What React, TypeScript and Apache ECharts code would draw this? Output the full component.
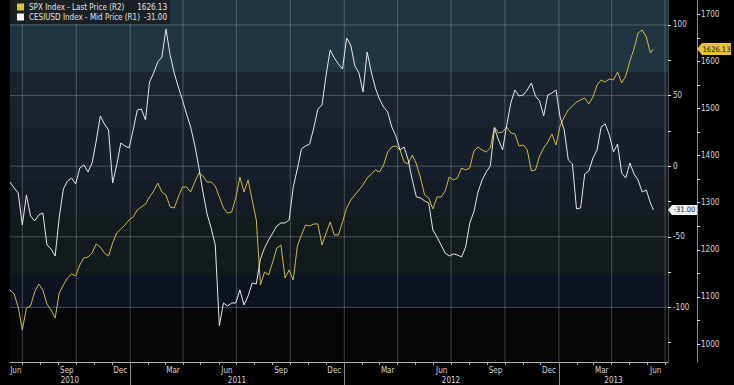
import React, { useEffect, useRef } from "react";
import * as echarts from "echarts";

// ---------- data ----------
const DAY = 86400000;
const startDate = Date.UTC(2010, 5, 10);
const lastDate = Date.UTC(2013, 5, 11);
// weekly sampling dates (x positions of the samples), last one = 2013-06-11
const sampleDates: number[] = [];
for (let i = 0; i < 157; i++) sampleDates.push(startDate + i * 7 * DAY);
sampleDates.push(lastDate);

const spxValues = [
  1114.6, 1106.2, 1078.6, 1029.7, 1076.4, 1080.7, 1110.4, 1127.4, 1114.6, 1084.9,
  1072.2, 1055.2, 1108.3, 1125.3, 1140.1, 1148.6, 1144.4, 1167.7, 1182.6, 1184.7,
  1193.2, 1212.3, 1205.9, 1193.2, 1186.8, 1214.4, 1235.7, 1244.1, 1252.6, 1263.3,
  1269.6, 1284.5, 1290.9, 1297.2, 1312.1, 1324.8, 1341.8, 1322.7, 1316.3, 1290.9,
  1288.7, 1312.1, 1333.3, 1333.3, 1322.7, 1343.9, 1363.0, 1356.7, 1343.9, 1343.9,
  1335.4, 1312.1, 1288.7, 1278.1, 1280.2, 1310.0, 1354.5, 1322.7, 1348.2, 1305.7,
  1263.3, 1125.3, 1152.9, 1146.5, 1174.1, 1203.8, 1210.2, 1140.1, 1157.1, 1135.9,
  1208.1, 1231.4, 1252.6, 1250.5, 1254.8, 1254.8, 1210.2, 1235.7, 1259.0, 1231.4,
  1231.4, 1259.0, 1288.7, 1305.7, 1316.3, 1326.9, 1337.6, 1352.4, 1360.9, 1369.4,
  1365.2, 1380.0, 1407.6, 1418.2, 1420.4, 1411.9, 1386.4, 1382.1, 1401.2, 1382.1,
  1352.4, 1316.3, 1310.0, 1286.6, 1312.1, 1312.1, 1324.8, 1354.5, 1348.2, 1352.4,
  1373.6, 1369.4, 1373.6, 1409.7, 1418.2, 1411.9, 1407.6, 1416.1, 1460.7, 1448.0,
  1450.1, 1460.7, 1448.0, 1445.8, 1420.4, 1422.5, 1411.9, 1367.3, 1369.4, 1399.1,
  1416.1, 1428.8, 1445.8, 1422.5, 1462.8, 1481.9, 1496.8, 1505.3, 1513.8, 1518.0,
  1522.3, 1509.5, 1524.4, 1549.9, 1560.5, 1556.2, 1562.6, 1560.5, 1577.5, 1554.1,
  1569.0, 1600.8, 1626.3, 1660.3, 1666.6, 1651.8, 1617.8, 1626.13,
];

const cesiValues = [
  -11.2, -15.4, -19.0, -41.6, -20.4, -35.3, -38.8, -34.6, -33.1, -55.8,
  -58.6, -63.6, -36.0, -16.1, -10.5, -8.4, -12.6, -1.3, 0.9, -4.1,
  2.3, 17.8, 35.6, 29.9, 25.6, -11.9, 0.9, 16.4, 14.3, 12.9,
  25.6, 39.8, 40.5, 32.7, 59.6, 66.0, 73.8, 77.3, 97.2, 78.8,
  66.0, 56.1, 46.9, 37.0, 27.8, 15.0, -0.6, -18.3, -33.8, -43.8,
  -55.8, -113.0, -96.9, -99.0, -96.9, -96.9, -87.7, -98.3, -91.9, -82.7,
  -83.4, -65.7, -57.9, -52.3, -47.3, -42.3, -40.2, -40.2, -38.1, -14.7,
  -2.0, 12.2, 14.3, 15.7, 27.1, 40.5, 43.3, 64.6, 82.3, 76.6,
  72.4, 68.8, 90.8, 85.8, 71.0, 66.0, 52.6, 80.9, 66.7, 55.4,
  47.6, 41.9, 38.4, 27.8, 21.4, 11.5, 13.6, 4.4, -9.8, -21.8,
  -22.5, -24.6, -26.1, -45.2, -50.1, -55.8, -61.5, -63.6, -62.2, -62.9,
  -64.3, -57.2, -40.2, -32.4, -18.3, -9.8, -4.1, 0.1, 27.1, 18.6,
  11.5, 29.2, 44.8, 54.0, 49.7, 50.4, 54.0, 58.9, 49.7, 46.2,
  35.6, 50.4, 51.8, 54.0, 34.8, 25.6, 4.4, 1.6, -30.3, -29.6,
  -5.5, -3.4, 5.8, 11.5, 27.8, 29.9, 22.1, 10.1, 15.7, -4.8,
  -8.4, 2.3, -5.5, -9.8, -18.3, -16.9, -26.1, -31.0,
];

const spxName = "SPX Index - Last Price (R2)";
const cesiName = "CESIUSD Index - Mid Price (R1)";
const spxLast = 1626.13;
const cesiLast = -31.0;

const r1Min = -138.7;
const r1Max = 117.7;
const r2Min = 961.8;
const r2Max = 1730.3;
const r1Labels = [-100, -50, 0, 50, 100];
const r1Ticks = [-125, -100, -75, -50, -25, 0, 25, 50, 75, 100];
const r2Labels = [1000, 1100, 1200, 1300, 1400, 1500, 1600, 1700];
const r2Ticks = [1000, 1050, 1100, 1150, 1200, 1250, 1300, 1350, 1400, 1450, 1500, 1550, 1600, 1650, 1700];

const MONTHS = ["Jan", "Feb", "Mar", "Apr", "May", "Jun", "Jul", "Aug", "Sep", "Oct", "Nov", "Dec"];
const monthLabelDates = [
  Date.UTC(2010, 5, 20), Date.UTC(2010, 8, 15), Date.UTC(2010, 11, 15),
  Date.UTC(2011, 2, 15), Date.UTC(2011, 5, 15), Date.UTC(2011, 8, 15), Date.UTC(2011, 11, 15),
  Date.UTC(2012, 2, 15), Date.UTC(2012, 5, 15), Date.UTC(2012, 8, 15), Date.UTC(2012, 11, 15),
  Date.UTC(2013, 2, 15), Date.UTC(2013, 5, 15),
];
const yearLabelDates = [Date.UTC(2010, 8, 20), Date.UTC(2011, 6, 2), Date.UTC(2012, 6, 1), Date.UTC(2013, 3, 4)];
const yearTickDates = [Date.UTC(2011, 0, 1), Date.UTC(2012, 0, 1), Date.UTC(2013, 0, 1)];
const monthTickDates: number[] = [];
for (let m = 0; m <= 36; m++) monthTickDates.push(Date.UTC(2010, 6 + m, 1));
const quarterDates: number[] = [];
for (let q = 0; q <= 12; q++) quarterDates.push(Date.UTC(2010, 6 + q * 3, 1));
const gridValues = [100, 50, 0, -50, -100];

const xMin = startDate;
const xMax = Date.UTC(2013, 6, 6);

const FONT = '"Liberation Sans Narrow", "DejaVu Sans Condensed", "Liberation Sans", sans-serif';

export default function App() {
  const ref = useRef<HTMLDivElement>(null);

  useEffect(() => {
    document.body.style.margin = "0";
    document.body.style.background = "#000";
    if (!ref.current) return;
    const chart = echarts.init(ref.current, undefined, { renderer: "svg" });

    const bands = [
      [0, "#1f3541"], [72, "#1b2330"], [127, "#181f2c"], [180, "#161c25"],
      [215, "#131a1d"], [275, "#0d1220"], [308, "#050607"],
    ] as [number, string][];
    const H = 362;
    const stops: any[] = [];
    bands.forEach(([y, c], i) => {
      const end = i < bands.length - 1 ? bands[i + 1][0] : H;
      stops.push({ offset: y / H, color: c });
      stops.push({ offset: end / H, color: c });
    });

    const gridLine = { color: "rgba(200,205,210,0.3)", type: "solid", width: 1 };
    const gridSeries: any[] = [
      ...gridValues.map((v) => ({
        type: "line", xAxisIndex: 0, yAxisIndex: 0, showSymbol: false, silent: true, z: 2,
        data: [[xMin, v], [xMax, v]], lineStyle: gridLine,
      })),
      ...quarterDates.map((d) => ({
        type: "line", xAxisIndex: 0, yAxisIndex: 0, showSymbol: false, silent: true, z: 2,
        data: [[d, r1Min], [d, r1Max]], lineStyle: gridLine,
      })),
    ];

    const option: any = {
      animation: false,
      backgroundColor: "#000",
      textStyle: { fontFamily: FONT },
      grid: {
        left: 10, right: 66, top: 0, bottom: 23, show: true, borderWidth: 0,
        backgroundColor: new echarts.graphic.LinearGradient(0, 0, 0, 1, stops),
      },
      legend: {
        orient: "vertical", left: 10, top: 0, padding: [3, 3, 3, 7], itemGap: 2,
        itemWidth: 7, itemHeight: 7, icon: "rect", selectedMode: false,
        backgroundColor: "rgba(27,31,35,0.96)",
        data: [spxName, cesiName],
        formatter: (name: string) =>
          `{n|${name}}{v|${name === spxName ? spxLast.toFixed(2) : cesiLast.toFixed(2)}}`,
        textStyle: {
          color: "#e6e6e6", fontSize: 8, fontFamily: FONT,
          rich: {
            n: { width: 111, fontSize: 8, color: "#e6e6e6", fontFamily: FONT },
            v: { width: 27, align: "right", fontSize: 8, color: "#e6e6e6", fontFamily: FONT },
          },
        },
      },
      xAxis: [
        {
          type: "value", min: xMin, max: xMax, position: "bottom",
          axisLine: { show: true, onZero: false, lineStyle: { color: "#b0b0b0", width: 1 } },
          axisTick: { show: true, customValues: monthTickDates, length: 3, lineStyle: { color: "#b0b0b0" } },
          axisLabel: {
            show: true, customValues: monthLabelDates, margin: 4, fontSize: 8, color: "#d8d8d8",
            fontFamily: FONT, formatter: (v: number) => MONTHS[new Date(v).getUTCMonth()],
          },
          splitLine: { show: false },
        },
        {
          type: "value", min: xMin, max: xMax, position: "bottom",
          axisLine: { show: false, onZero: false },
          axisTick: { show: true, customValues: yearTickDates, length: 23, lineStyle: { color: "#8a8a8a" } },
          axisLabel: {
            show: true, customValues: yearLabelDates, margin: 14, fontSize: 8, color: "#d8d8d8",
            fontFamily: FONT, formatter: (v: number) => String(new Date(v).getUTCFullYear()),
          },
          splitLine: { show: false },
        },
      ],
      yAxis: [
        {
          type: "value", position: "right", offset: 0, min: r1Min, max: r1Max,
          axisLine: { show: true, onZero: false, lineStyle: { color: "rgba(200,205,210,0.35)", type: "solid" } },
          axisTick: { show: true, customValues: r1Ticks, length: 3, lineStyle: { color: "#e0e0e0" } },
          axisLabel: {
            show: true, customValues: r1Labels, margin: 5, fontSize: 8, color: "#d8d8d8", fontFamily: FONT,
            formatter: (v: number) => String(v),
          },
          splitLine: { show: false },
        },
        {
          type: "value", position: "right", offset: 29, min: r2Min, max: r2Max,
          axisLine: { show: true, onZero: false, lineStyle: { color: "#8a8a8a" } },
          axisTick: { show: true, customValues: r2Ticks, length: 3, lineStyle: { color: "#e0e0e0" } },
          axisLabel: {
            show: true, customValues: r2Labels, margin: 4, fontSize: 8, color: "#d8d8d8", fontFamily: FONT,
            formatter: (v: number) => String(v),
          },
          splitLine: { show: false },
        },
      ],
      series: [
        ...gridSeries,
        {
          name: spxName, type: "line", xAxisIndex: 0, yAxisIndex: 1, showSymbol: false, z: 3,
          data: sampleDates.map((d, i) => [d, spxValues[i]]),
          lineStyle: { color: "#cdbb45", width: 1 },
          itemStyle: { color: "#e0c23a" },
        },
        {
          name: cesiName, type: "line", xAxisIndex: 0, yAxisIndex: 0, showSymbol: false, z: 4,
          data: sampleDates.map((d, i) => [d, cesiValues[i]]),
          lineStyle: { color: "#e8e8e8", width: 1 },
          itemStyle: { color: "#ffffff" },
        },
      ],
    };
    chart.setOption(option);

    const xR = chart.convertToPixel({ xAxisIndex: 0 }, xMax) as number;
    const yS = chart.convertToPixel({ yAxisIndex: 1 }, spxLast) as number;
    const yC = chart.convertToPixel({ yAxisIndex: 0 }, cesiLast) as number;
    const x2 = xR + 29;
    chart.setOption({
      graphic: [
        {
          type: "polygon", z: 100,
          shape: { points: [[x2, yS], [x2 + 5, yS - 6], [x2 + 34, yS - 6], [x2 + 34, yS + 6], [x2 + 5, yS + 6]] },
          style: { fill: "#e6c33b" },
        },
        {
          type: "text", z: 101, x: x2 + 19.5, y: yS,
          style: { text: spxLast.toFixed(2), fill: "#111", fontSize: 7.5, fontFamily: FONT, align: "center", verticalAlign: "middle" },
        },
        {
          type: "polygon", z: 100,
          shape: { points: [[xR, yC], [xR + 4, yC - 5], [xR + 29, yC - 5], [xR + 29, yC + 5], [xR + 4, yC + 5]] },
          style: { fill: "#f0f0f0" },
        },
        {
          type: "text", z: 101, x: xR + 16.5, y: yC,
          style: { text: cesiLast.toFixed(2), fill: "#111", fontSize: 7.5, fontFamily: FONT, align: "center", verticalAlign: "middle" },
        },
      ],
    });

    return () => chart.dispose();
  }, []);

  return <div ref={ref} style={{ width: 734, height: 385, background: "#000" }} />;
}
